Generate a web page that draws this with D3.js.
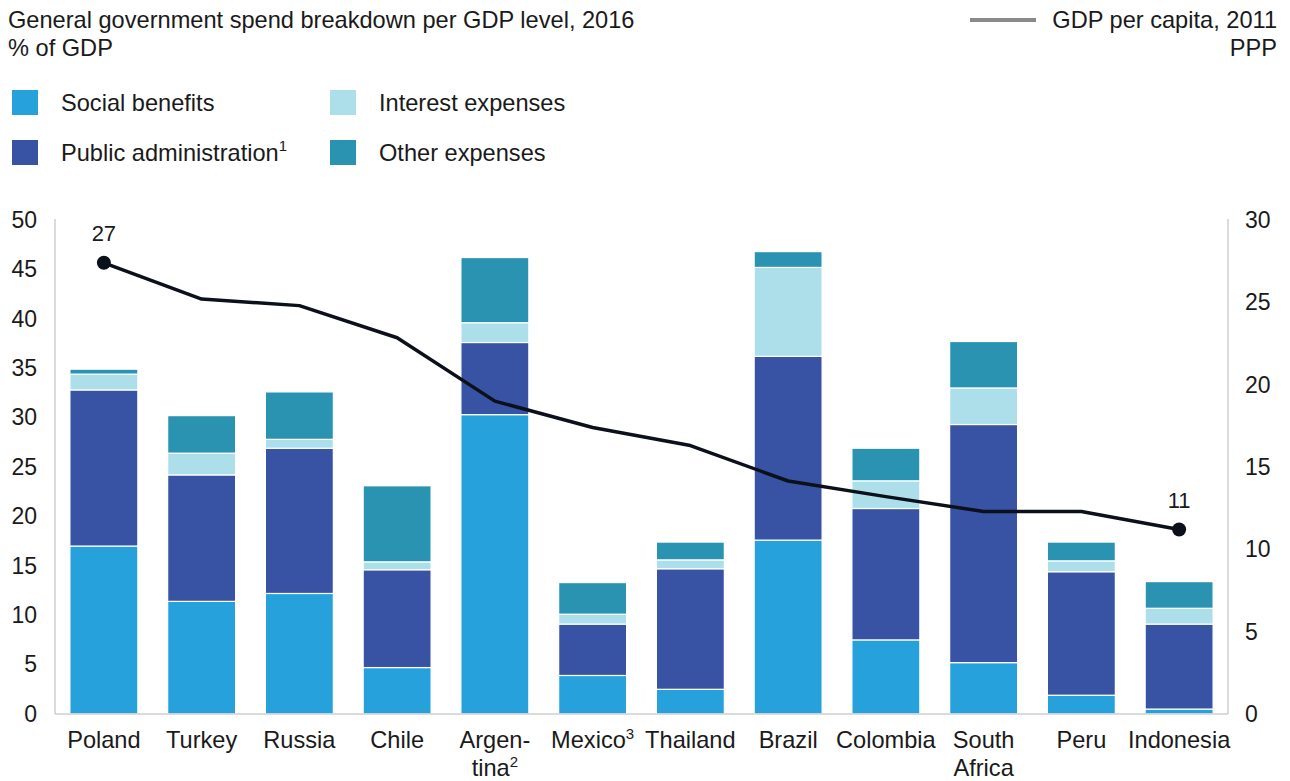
<!DOCTYPE html>
<html>
<head>
<meta charset="utf-8">
<script src="https://cdn.jsdelivr.net/npm/d3@7/dist/d3.min.js"></script>
<style>
  html, body { margin: 0; padding: 0; background: #fff; }
  svg text { font-family: "Liberation Sans", Arial, sans-serif; fill: #1a1a1a; }
</style>
</head>
<body>
<svg id="chart" width="1290" height="781"></svg>
<script>
// Countries, ordered by GDP per capita
const countries = ["Poland", "Turkey", "Russia", "Chile", "Argentina", "Mexico", "Thailand", "Brazil", "Colombia", "South Africa", "Peru", "Indonesia"];
// Axis labels (line breaks and footnote markers)
const countryLabels = [
  [["Poland"]], [["Turkey"]], [["Russia"]], [["Chile"]],
  [["Argen-"], ["tina", "2"]], [["Mexico", "3"]], [["Thailand"]], [["Brazil"]],
  [["Colombia"]], [["South"], ["Africa"]], [["Peru"]], [["Indonesia"]]
];

// General government spend, % of GDP, 2016
const socialBenefits   = [17.0, 11.4, 12.2, 4.7, 30.3, 3.9, 2.5, 17.6, 7.5, 5.2, 1.9, 0.5];
const publicAdmin      = [15.8, 12.8, 14.7, 9.9, 7.3, 5.2, 12.2, 18.6, 13.3, 24.1, 12.5, 8.6];
const interestExpenses = [1.6, 2.2, 0.9, 0.8, 2.0, 1.0, 0.9, 9.0, 2.8, 3.7, 1.1, 1.6];
const otherExpenses    = [0.5, 3.8, 4.8, 7.7, 6.6, 3.2, 1.8, 1.6, 3.3, 4.7, 1.9, 2.7];

// GDP per capita, 2011 PPP (thousand $)
const gdpPerCapita = [27.4, 25.2, 24.8, 22.85, 19.0, 17.4, 16.3, 14.15, 13.2, 12.3, 12.3, 11.2];
const gdpLabels = ["27", "", "", "", "", "", "", "", "", "", "", "11"];

const leftTicks = [0, 5, 10, 15, 20, 25, 30, 35, 40, 45, 50];
const rightTicks = [0, 5, 10, 15, 20, 25, 30];

const seriesKeys = ["Social benefits", "Public administration", "Interest expenses", "Other expenses"];
const seriesValues = [socialBenefits, publicAdmin, interestExpenses, otherExpenses];
const seriesColors = ["#26a1dc", "#3853a3", "#acdfea", "#2a93b1"];

const FS = 23.6;   // body text size
const TICK_FS = 23;

const svg = d3.select("#chart");
const plot = { left: 55, right: 1228, top: 220, bottom: 714 };

const x = d3.scaleBand().domain(countries).range([plot.left, plot.right])
  .paddingInner(0.305).paddingOuter(0.1525);
const yL = d3.scaleLinear().domain([0, 50]).range([plot.bottom, plot.top]);
const yR = d3.scaleLinear().domain([0, 30]).range([plot.bottom, plot.top]);

// Stack table
const table = countries.map((c, i) => {
  const row = { country: c };
  seriesKeys.forEach((k, j) => row[k] = seriesValues[j][i]);
  return row;
});
const stacked = d3.stack().keys(seriesKeys)(table);

// Bars
const layers = svg.append("g").selectAll("g").data(stacked).join("g")
  .attr("fill", (d, i) => seriesColors[i]);
layers.selectAll("rect").data(d => d).join("rect")
  .attr("x", d => x(d.data.country))
  .attr("width", x.bandwidth())
  .attr("y", d => yL(d[1]))
  .attr("height", d => Math.max(0, yL(d[0]) - yL(d[1])))
  .attr("stroke", "#fff")
  .attr("stroke-width", 1.2);

// Axis frame lines
const axisColor = "#cfcfcf";
svg.append("line").attr("x1", plot.left).attr("x2", plot.left).attr("y1", plot.top - 1).attr("y2", plot.bottom)
  .attr("stroke", axisColor).attr("stroke-width", 1.5);
svg.append("line").attr("x1", plot.right).attr("x2", plot.right).attr("y1", plot.top - 1).attr("y2", plot.bottom)
  .attr("stroke", axisColor).attr("stroke-width", 1.5);
svg.append("line").attr("x1", plot.left).attr("x2", plot.right).attr("y1", plot.bottom).attr("y2", plot.bottom)
  .attr("stroke", axisColor).attr("stroke-width", 1.5);

// Left axis
const leftAxis = svg.append("g").attr("transform", `translate(${plot.left},0)`)
  .call(d3.axisLeft(yL).tickValues(leftTicks).tickSize(0).tickPadding(18));
leftAxis.select(".domain").remove();
leftAxis.selectAll("text").attr("font-size", TICK_FS).attr("fill", "#1a1a1a")
  .attr("font-family", "Liberation Sans, Arial, sans-serif");

// Right axis
const rightAxis = svg.append("g").attr("transform", `translate(${plot.right},0)`)
  .call(d3.axisRight(yR).tickValues(rightTicks).tickSize(0).tickPadding(17));
rightAxis.select(".domain").remove();
rightAxis.selectAll("text").attr("font-size", TICK_FS).attr("fill", "#1a1a1a")
  .attr("font-family", "Liberation Sans, Arial, sans-serif");

// Country labels
const xl = svg.append("g");
countries.forEach((c, i) => {
  const t = xl.append("text").attr("x", x(c) + x.bandwidth() / 2).attr("y", 748)
    .attr("text-anchor", "middle").attr("font-size", FS);
  countryLabels[i].forEach((line, li) => {
    t.append("tspan").attr("x", x(c) + x.bandwidth() / 2).attr("dy", li === 0 ? 0 : 28).text(line[0]);
    if (line[1]) {
      t.append("tspan").attr("font-size", 15).attr("dy", -9).text(line[1]);
      t.append("tspan").attr("font-size", FS).attr("dy", 9).text("");
    }
  });
});

// GDP per capita line
const cx = c => x(c) + x.bandwidth() / 2;
svg.append("path").datum(gdpPerCapita)
  .attr("fill", "none").attr("stroke", "#0b101b").attr("stroke-width", 3.5)
  .attr("stroke-linejoin", "round")
  .attr("d", d3.line().x((d, i) => cx(countries[i])).y(d => yR(d)));

const ends = gdpPerCapita.map((v, i) => ({ v, i, label: gdpLabels[i] })).filter(d => d.label);
svg.append("g").selectAll("circle").data(ends).join("circle")
  .attr("cx", d => cx(countries[d.i])).attr("cy", d => yR(d.v)).attr("r", 7).attr("fill", "#0b101b");
svg.append("g").selectAll("text").data(ends).join("text")
  .attr("x", d => cx(countries[d.i])).attr("y", d => yR(d.v) - 22)
  .attr("text-anchor", "middle").attr("font-size", 22).text(d => d.label);

// Titles
svg.append("text").attr("x", 8).attr("y", 28).attr("font-size", FS)
  .text("General government spend breakdown per GDP level, 2016");
svg.append("text").attr("x", 8).attr("y", 56).attr("font-size", FS).text("% of GDP");

// Legend: series swatches
const legendPos = [[12, 90], [12, 140], [330, 90], [330, 140]];
seriesKeys.forEach((k, j) => {
  const [lx, ly] = legendPos[j];
  svg.append("rect").attr("x", lx).attr("y", ly).attr("width", 26).attr("height", 25).attr("fill", seriesColors[j]);
  const t = svg.append("text").attr("x", lx + 49).attr("y", ly + 21).attr("font-size", FS).text(k);
  if (j === 1) t.append("tspan").attr("font-size", 15).attr("dy", -10).text("1");
});

// Legend: GDP line
svg.append("line").attr("x1", 970).attr("x2", 1036).attr("y1", 20).attr("y2", 20)
  .attr("stroke", "#8a8a8a").attr("stroke-width", 4);
svg.append("text").attr("x", 1277).attr("y", 28).attr("text-anchor", "end").attr("font-size", FS)
  .text("GDP per capita, 2011");
svg.append("text").attr("x", 1277).attr("y", 56).attr("text-anchor", "end").attr("font-size", FS).text("PPP");
</script>
</body>
</html>
